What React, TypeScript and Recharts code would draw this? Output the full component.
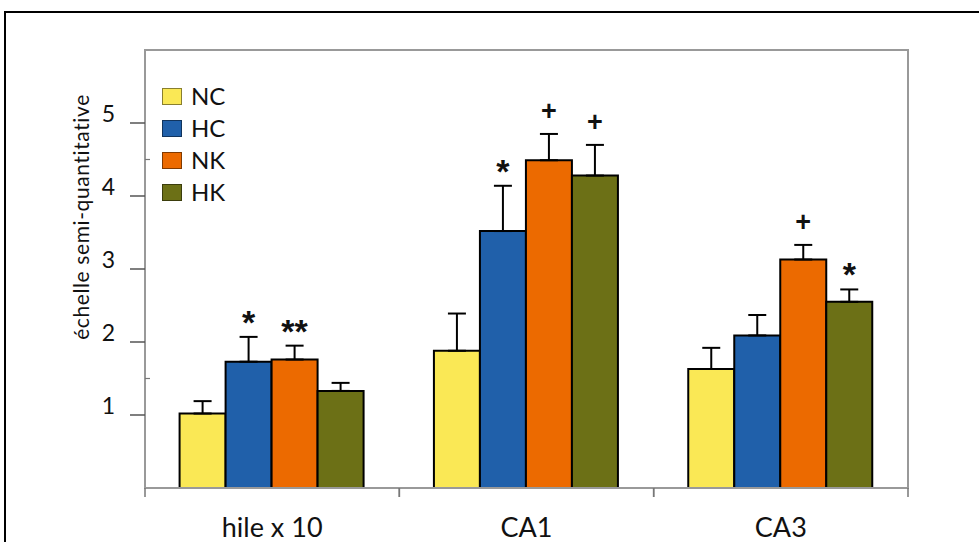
import React from 'react'
import {
  BarChart,
  Bar,
  XAxis,
  YAxis,
  ErrorBar,
  Legend,
  LabelList,
  ReferenceArea
} from 'recharts'

const categories = ['hile x 10', 'CA1', 'CA3']
const seriesNames = ['NC', 'HC', 'NK', 'HK']

// mean scores per group
const ncValues = [1.02, 1.88, 1.63]
const hcValues = [1.73, 3.52, 2.09]
const nkValues = [1.76, 4.49, 3.13]
const hkValues = [1.33, 4.28, 2.55]

// upper error (only drawn upwards)
const ncErrors = [0.17, 0.51, 0.29]
const hcErrors = [0.34, 0.62, 0.28]
const nkErrors = [0.19, 0.36, 0.2]
const hkErrors = [0.11, 0.42, 0.17]

// significance marks above the bars
const ncMarks = ['', '', '']
const hcMarks = ['*', '*', '']
const nkMarks = ['**', '+', '+']
const hkMarks = ['', '+', '*']

const yTicks = [1, 1.5, 2, 3, 4, 4.5, 5]

const data = categories.map((name, i) => ({
  name,
  NC: ncValues[i],
  HC: hcValues[i],
  NK: nkValues[i],
  HK: hkValues[i],
  ncErr: [0, ncErrors[i]],
  hcErr: [0, hcErrors[i]],
  nkErr: [0, nkErrors[i]],
  hkErr: [0, hkErrors[i]],
  ncMark: ncMarks[i],
  hcMark: hcMarks[i],
  nkMark: nkMarks[i],
  hkMark: hkMarks[i]
}))

const font = 'Lato, "Open Sans", sans-serif'
const frameGray = '#999'

const YTick = (props: any) => {
  const { x, y, payload } = props
  const axisX = x + 30
  if (!Number.isInteger(payload.value)) {
    return <line x1={axisX} y1={y} x2={axisX + 5} y2={y} stroke="#777" strokeWidth={1.2} />
  }
  return (
    <g>
      <line x1={axisX - 15} y1={y} x2={axisX} y2={y} stroke="#555" strokeWidth={1.5} />
      <text x={x} y={y} dy={-1} textAnchor="end" fontSize={23} fontFamily={font} fill="#111">
        {payload.value}
      </text>
    </g>
  )
}

const XTick = (props: any) => {
  const { x, y, payload } = props
  const half = payload.offset ?? 0
  return (
    <g>
      <line x1={x - half} y1={y} x2={x - half} y2={y + 9} stroke="#777" strokeWidth={1.5} />
      <line x1={x + half} y1={y} x2={x + half} y2={y + 9} stroke="#777" strokeWidth={1.5} />
      <text x={x} y={y + 49} textAnchor="middle" fontSize={27} fontFamily={font} fill="#111">
        {payload.value}
      </text>
    </g>
  )
}

const renderMark = (values: number[], errors: number[]) => (props: any) => {
  const { x, y, width, height, value, index } = props
  if (!value) return null
  const pxPerUnit = height / values[index]
  const errTop = y - errors[index] * pxPerUnit
  const isPlus = value === '+'
  return (
    <text
      x={x + width / 2}
      y={errTop - (isPlus ? 14 : 3)}
      textAnchor="middle"
      fontSize={isPlus ? 27 : 34}
      fontWeight="bold"
      fontFamily='"Liberation Sans", Arial, sans-serif'
      fill="#111"
    >
      {value}
    </text>
  )
}

const renderLegend = (props: any) => {
  const payload = [...(props.payload || [])].sort(
    (a: any, b: any) => seriesNames.indexOf(a.value) - seriesNames.indexOf(b.value)
  )
  return (
    <div style={{ display: 'flex', flexDirection: 'column' }}>
      {payload.map((entry: any) => (
        <div key={entry.value} style={{ display: 'flex', alignItems: 'center', height: 32 }}>
          <span
            style={{
              width: 18,
              height: 15,
              background: entry.color,
              border: '1px solid rgba(0,0,0,0.45)',
              marginRight: 9
            }}
          />
          <span style={{ fontSize: 24, fontFamily: font, color: '#111', lineHeight: 1 }}>
            {entry.value}
          </span>
        </div>
      ))}
    </div>
  )
}

const App: React.FC = () => {
  return (
    <div style={{ position: 'absolute', left: 0, top: 0, width: 979, height: 542, background: '#fff' }}>
      <div
        style={{
          position: 'absolute',
          left: 4,
          top: 11,
          width: 975,
          height: 531,
          borderTop: '2px solid #000',
          borderLeft: '2px solid #000',
          boxSizing: 'border-box'
        }}
      />
      <div style={{ position: 'absolute', left: 0, top: 0 }}>
        <BarChart
          width={979}
          height={542}
          data={data}
          margin={{ top: 50, right: 71, bottom: 14, left: 0 }}
          barCategoryGap="13.6%"
          barGap={0}
        >
          <ReferenceArea y1={0} y2={6} fill="none" stroke={frameGray} strokeWidth={2} />
          <XAxis
            dataKey="name"
            height={40}
            tickLine={false}
            tickSize={0}
            tickMargin={0}
            axisLine={{ stroke: frameGray, strokeWidth: 2 }}
            tick={<XTick />}
            interval={0}
          />
          <YAxis
            width={145}
            domain={[0, 6]}
            ticks={yTicks}
            tickLine={false}
            tickSize={15}
            tickMargin={15}
            axisLine={{ stroke: frameGray, strokeWidth: 2 }}
            tick={<YTick />}
            interval={0}
            label={{
              content: () => (
                <text
                  transform="translate(80, 217) rotate(-90)"
                  textAnchor="middle"
                  dominantBaseline="central"
                  fontSize={21}
                  letterSpacing={0.6}
                  fontFamily={font}
                  fill="#111"
                >
                  échelle semi-quantitative
                </text>
              )
            }}
          />
          <Legend
            layout="vertical"
            align="center"
            verticalAlign="middle"
            wrapperStyle={{ left: 162, top: 80, width: 'auto' }}
            content={renderLegend}
          />
          <Bar dataKey="NC" fill="#FAE855" stroke="#000" strokeWidth={2} isAnimationActive={false}>
            <ErrorBar dataKey="ncErr" direction="y" width={9} stroke="#000" strokeWidth={2} />
            <LabelList dataKey="ncMark" content={renderMark(ncValues, ncErrors)} />
          </Bar>
          <Bar dataKey="HC" fill="#2060AA" stroke="#000" strokeWidth={2} isAnimationActive={false}>
            <ErrorBar dataKey="hcErr" direction="y" width={9} stroke="#000" strokeWidth={2} />
            <LabelList dataKey="hcMark" content={renderMark(hcValues, hcErrors)} />
          </Bar>
          <Bar dataKey="NK" fill="#EC6A00" stroke="#000" strokeWidth={2} isAnimationActive={false}>
            <ErrorBar dataKey="nkErr" direction="y" width={9} stroke="#000" strokeWidth={2} />
            <LabelList dataKey="nkMark" content={renderMark(nkValues, nkErrors)} />
          </Bar>
          <Bar dataKey="HK" fill="#6C7016" stroke="#000" strokeWidth={2} isAnimationActive={false}>
            <ErrorBar dataKey="hkErr" direction="y" width={9} stroke="#000" strokeWidth={2} />
            <LabelList dataKey="hkMark" content={renderMark(hkValues, hkErrors)} />
          </Bar>
        </BarChart>
      </div>
    </div>
  )
}

export default App
